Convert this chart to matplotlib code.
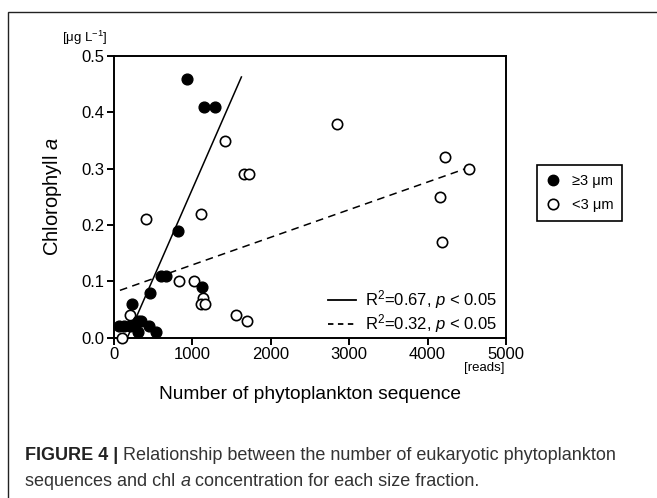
import matplotlib
matplotlib.use("Agg")
import matplotlib.pyplot as plt
from matplotlib.lines import Line2D
from matplotlib.patches import Rectangle

plt.rcParams["font.family"] = ["Liberation Sans", "DejaVu Sans"]
plt.rcParams["mathtext.fontset"] = "custom"
plt.rcParams["mathtext.rm"] = "Liberation Sans"
plt.rcParams["mathtext.it"] = "Liberation Sans:italic"

# >=3 um fraction (filled)
big_x = [925, 1150, 1285, 814, 600, 660, 460, 1120, 225,
         70, 130, 200, 260, 310, 340, 300, 450, 540]
big_y = [0.46, 0.41, 0.41, 0.19, 0.11, 0.11, 0.08, 0.09, 0.06,
         0.02, 0.02, 0.02, 0.02, 0.01, 0.03, 0.03, 0.02, 0.01]
# <3 um fraction (open)
small_x = [98, 204, 407, 1107, 831, 1018, 1136, 1115, 1158, 1561, 1700,
           1412, 1660, 1720, 2846, 4220, 4525, 4157, 4186]
small_y = [0.00, 0.04, 0.21, 0.22, 0.10, 0.10, 0.07, 0.06, 0.06, 0.04, 0.03,
           0.35, 0.29, 0.29, 0.38, 0.32, 0.30, 0.25, 0.17]

# regression lines: slope, intercept, x-range
fit_big = (3.18e-4, -0.054, 170, 1625)
fit_small = (4.9e-5, 0.0803, 76, 4490)

fig = plt.figure(figsize=(6.57, 4.98), dpi=100)
fig.patch.set_facecolor("white")
fig.patches.append(Rectangle((8 / 657, -0.05), 1.2, 1 - 12 / 498 + 0.05,
                             transform=fig.transFigure, fill=False,
                             lw=1.0, ec="#222222", zorder=0))

ax = fig.add_axes([114 / 657, 1 - 337.7 / 498, (506 - 114) / 657, (337.7 - 56) / 498])
for s in ax.spines.values():
    s.set_linewidth(1.4)
ax.tick_params(direction="out", length=5, width=1.4, labelsize=12, pad=2)
ax.set_xlim(0, 5000)
ax.set_ylim(0, 0.5)
ax.set_xticks([0, 1000, 2000, 3000, 4000, 5000])
ax.set_yticks([0.0, 0.1, 0.2, 0.3, 0.4, 0.5])
ax.set_yticklabels(["0.0", "0.1", "0.2", "0.3", "0.4", "0.5"])

ax.scatter(small_x, small_y, s=55, facecolor="white", edgecolor="black",
           linewidth=1.2, zorder=3, clip_on=False)
ax.scatter(big_x, big_y, s=60, facecolor="black", edgecolor="black",
           linewidth=1.0, zorder=4, clip_on=False)

m, b, x0, x1 = fit_big
ax.plot([x0, x1], [m * x0 + b, m * x1 + b], color="black", lw=1.1, zorder=2)
m, b, x0, x1 = fit_small
ax.plot([x0, x1], [m * x0 + b, m * x1 + b], color="black", lw=1.1,
        ls=(0, (5, 3.5)), zorder=2)

h1 = Line2D([], [], color="black", lw=1.3)
h2 = Line2D([], [], color="black", lw=1.3, ls=(0, (3, 2.5)))
ax.legend([h1, h2], ["R$^2$=0.67, $p$ < 0.05", "R$^2$=0.32, $p$ < 0.05"],
          loc="lower right", bbox_to_anchor=(0.985, 0.0), frameon=False,
          fontsize=12, handlelength=1.7, handletextpad=0.55,
          labelspacing=0.05, borderaxespad=0.0, borderpad=0.15)

m1 = Line2D([], [], ls="none", marker="o", ms=7.5, mfc="black", mec="black")
m2 = Line2D([], [], ls="none", marker="o", ms=7.5, mfc="white", mec="black", mew=1.2)
fig.legend([m1, m2], ["≥3 μm", "<3 μm"], loc="upper left",
           bbox_to_anchor=(537 / 657, 1 - 165 / 498), fontsize=10.5,
           frameon=True, fancybox=False, edgecolor="black", framealpha=1,
           handlelength=1.0, handletextpad=0.8, borderpad=0.6,
           labelspacing=0.7, borderaxespad=0)
fig.legends[0].get_frame().set_linewidth(1.2)

ax.set_ylabel("Chlorophyll $a$", fontsize=14.5, labelpad=12)
ax.set_xlabel("Number of phytoplankton sequence", fontsize=13.8, labelpad=17)
fig.text(85 / 657, 1 - 38 / 498, "[μg L$^{-1}$]", fontsize=9.5, ha="center", va="center")
fig.text(484 / 657, 1 - 368 / 498, "[reads]", fontsize=9.5, ha="center", va="center")

# caption
cap_col = "#333333"
t1 = fig.text(25 / 657, 1 - 455 / 498, "FIGURE 4 |", fontsize=13, fontweight="bold",
              color="#222222", va="center")
fig.canvas.draw()
ax.annotate(" Relationship between the number of eukaryotic phytoplankton",
            xy=(1, 0.5), xycoords=t1, va="center", ha="left", fontsize=13,
            color=cap_col, annotation_clip=False)
t2 = fig.text(25 / 657, 1 - 481 / 498, "sequences and chl ", fontsize=13,
              color=cap_col, va="center")
t3 = ax.annotate("a", xy=(1, 0.5), xycoords=t2, va="center", ha="left",
                 fontsize=13, style="italic", color=cap_col, annotation_clip=False)
ax.annotate(" concentration for each size fraction.", xy=(1, 0.5), xycoords=t3,
            va="center", ha="left", fontsize=13, color=cap_col, annotation_clip=False)

fig.savefig("out.png", dpi=100, facecolor="white")
